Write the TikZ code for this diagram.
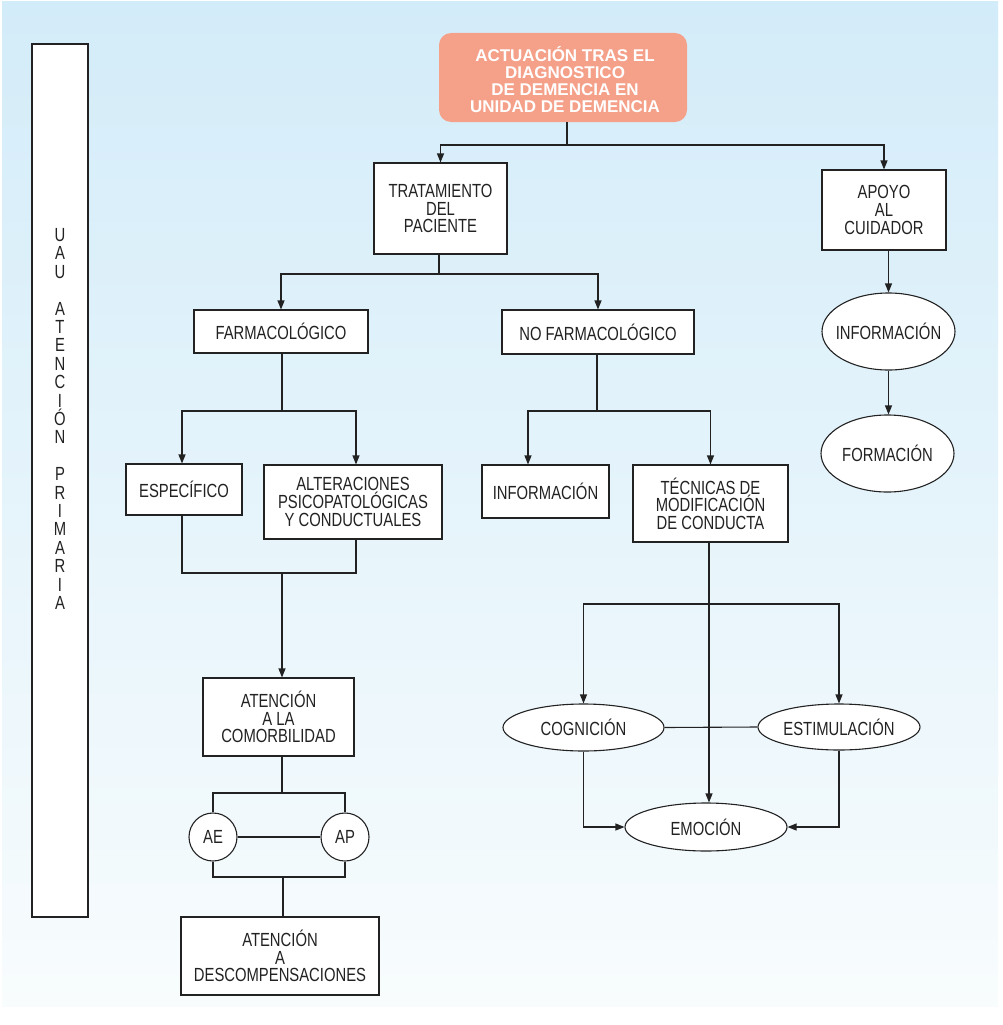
\documentclass[tikz,border=0pt]{standalone}
\usepackage{fontspec}
\setmainfont{Liberation Sans}[FakeStretch=0.78]
\newfontfamily\headfont{Liberation Sans}
\usetikzlibrary{arrows.meta,shapes.geometric}
\definecolor{bgtop}{HTML}{D3ECF9}
\definecolor{bgmid}{HTML}{E4F3FB}
\definecolor{bgbot}{HTML}{F8FCFD}
\definecolor{salmon}{HTML}{F5A089}
\definecolor{ink}{HTML}{222222}
\tikzset{
  box/.style={draw=ink, line width=1.1pt, fill=white, inner sep=0pt, align=center,
    text=ink, font=\fontsize{19}{17.6}\selectfont},
  oval/.style={box, ellipse, inner xsep=-7pt},
  disc/.style={box, circle, minimum size=48pt},
  conn/.style={draw=ink, line width=1.1pt},
  arr/.style={conn, -{Triangle[length=9pt,width=7pt]}},
  titlebox/.style={fill=salmon, rounded corners=12pt, inner sep=0pt}
}
\begin{document}
\begin{tikzpicture}[x=1pt,y=-1pt]
\useasboundingbox (0,0) rectangle (1002,1025);
% page background
\fill[white] (0,0) rectangle (1002,1025);
\shade[top color=bgtop, middle color=bgmid, bottom color=bgbot] (2,2) rectangle (998,1006);

% side band
\node[box, minimum width=56pt, minimum height=873pt] (uau) at (60,480.5) {};
\node[text=ink, align=center, inner sep=0pt, font=\fontsize{19}{18.4}\selectfont] (uautxt) at (60,419)
  {U\\A\\U\\~\\A\\T\\E\\N\\C\\I\\Ó\\N\\~\\P\\R\\I\\M\\A\\R\\I\\A};

% header
\node[titlebox, minimum width=248pt, minimum height=89pt] (top) at (563,77.5) {};
\node[text=white, align=center, inner sep=0pt, font=\headfont\bfseries\fontsize{17}{17.2}\selectfont]
  (toptxt) at (565,79.5) {ACTUACIÓN TRAS EL\\DIAGNOSTICO\\DE DEMENCIA EN\\UNIDAD DE DEMENCIA};

% boxes
\node[box, minimum width=133pt, minimum height=91pt] (trat) at (440.5,208.5) {TRATAMIENTO\\DEL\\PACIENTE};
\node[box, minimum width=124pt, minimum height=80pt] (apoyo) at (884,210) {APOYO\\AL\\CUIDADOR};
\node[box, minimum width=174pt, minimum height=43pt] (farm) at (281,331.5) {FARMACOLÓGICO};
\node[box, minimum width=192pt, minimum height=44pt] (nofarm) at (598,332) {NO FARMACOLÓGICO};
\node[oval, minimum width=133pt, minimum height=77pt] (infoc) at (888.5,331.5) {INFORMACIÓN};
\node[oval, minimum width=133pt, minimum height=77pt] (form) at (887.5,453.5) {FORMACIÓN};
\node[box, minimum width=116pt, minimum height=51pt] (espec) at (184,489.5) {ESPECÍFICO};
\node[box, minimum width=178pt, minimum height=74pt] (alter) at (353,502) {ALTERACIONES\\PSICOPATOLÓGICAS\\Y CONDUCTUALES};
\node[box, minimum width=127pt, minimum height=53pt] (info) at (545.5,491.5) {INFORMACIÓN};
\node[box, minimum width=155pt, minimum height=77pt] (tecn) at (710.5,503.5) {TÉCNICAS DE\\MODIFICACIÓN\\DE CONDUCTA};
\node[box, minimum width=151pt, minimum height=78pt] (comorb) at (278.5,717) {ATENCIÓN\\A LA\\COMORBILIDAD};
\node[disc] (ae) at (213,837) {AE};
\node[disc] (ap) at (345,837) {AP};
\node[box, minimum width=198pt, minimum height=78pt] (desc) at (280,956) {ATENCIÓN\\A\\DESCOMPENSACIONES};
\node[oval, minimum width=161pt, minimum height=47pt] (cogn) at (583.5,727.5) {COGNICIÓN};
\node[oval, minimum width=162pt, minimum height=46pt] (estim) at (839,727) {ESTIMULACIÓN};
\node[oval, minimum width=162pt, minimum height=48pt] (emoc) at (706,827) {EMOCIÓN};

% header to the two main branches
\coordinate (j1) at (567,145);
\draw[conn] (top.south -| j1) -- (j1);
\draw[arr] (j1) -| (trat.north);
\draw[arr] (j1) -| (apoyo.north);

% patient treatment split
\coordinate (j2) at (439,274);
\draw[conn] (trat.south -| j2) -- (j2);
\draw[arr] (j2) -| (farm.north);
\draw[arr] (j2) -| (nofarm.north);

% pharmacological branch
\coordinate (j3) at (282,411);
\draw[conn] (farm.south -| j3) -- (j3);
\draw[arr] (j3) -| (espec.north -| 182,0);
\draw[arr] (j3) -| (alter.north -| 356,0);
\coordinate (j4) at (282,573);
\draw[conn] (espec.south -| 182,0) |- (j4) -| (alter.south -| 356,0);
\draw[arr] (j4) -- (j4 |- comorb.north);

% comorbidity and AE / AP
\coordinate (j5) at (282,793);
\draw[conn] (comorb.south -| j5) -- (j5);
\draw[conn] (ae.north) |- (j5) -| (ap.north);
\draw[conn] (ae) -- (ap);
\coordinate (j6) at (283,877);
\draw[conn] (ae.south) |- (j6) -| (ap.south);
\draw[conn] (j6) -- (j6 |- desc.north);

% non-pharmacological branch
\coordinate (j7) at (597,411);
\draw[conn] (nofarm.south -| j7) -- (j7);
\draw[arr] (j7) -| (info.north -| 528,0);
\draw[arr] (j7) -| (tecn.north);

% behaviour techniques
\coordinate (j8) at (709,604);
\draw[arr] (tecn.south -| j8) -- (emoc.north -| j8);
\draw[arr] (j8) -| (cogn.north);
\draw[arr] (j8) -| (estim.north);
\draw[conn] (cogn.east) -- (estim.west);
\draw[arr] (cogn.south) |- (emoc.west);
\draw[arr] (estim.south) |- (emoc.east);

% caregiver support
\draw[arr] (infoc.north |- apoyo.south) -- (infoc.north);
\draw[arr] (infoc.south) -- (infoc.south |- form.north);
\end{tikzpicture}
\end{document}
